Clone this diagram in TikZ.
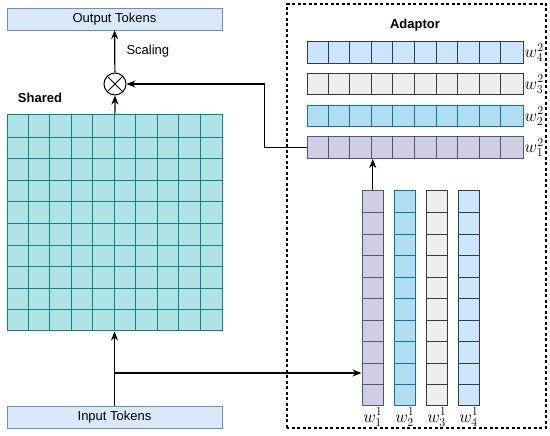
\documentclass[tikz,border=0pt]{standalone}
\usepackage{fontspec}
\setmainfont{Liberation Sans}
\usetikzlibrary{positioning,arrows.meta,calc}

\definecolor{tokfill}{HTML}{DAE8FC}
\definecolor{tokline}{HTML}{6C8EBF}
\definecolor{tealfill}{HTML}{B0E3E6}
\definecolor{tealline}{HTML}{0E8088}
\definecolor{purplefill}{HTML}{D0CEE2}
\definecolor{purpleline}{HTML}{56517E}
\definecolor{bluefill}{HTML}{B1DDF0}
\definecolor{blueline}{HTML}{10739E}
\definecolor{greyfill}{HTML}{EEEEEE}
\definecolor{greyline}{HTML}{36393D}
\definecolor{skyfill}{HTML}{CCE5FF}
\definecolor{skyline}{HTML}{36393D}

\begin{document}
\begin{tikzpicture}[
    x=1pt, y=1pt,
    font=\fontsize{13}{15}\selectfont,
    tokens/.style={
        draw=tokline,
        fill=tokfill,
        minimum width=215pt,
        minimum height=22pt,
        inner sep=0pt
    },
    weightrow/.style={
        line width=1pt,
        minimum width=216pt,
        minimum height=21.5pt,
        inner sep=0pt
    },
    weightcol/.style={
        line width=1pt,
        minimum width=21.5pt,
        minimum height=215pt,
        inner sep=0pt
    },
    wlabel/.style={font=\fontsize{17}{19}\selectfont, inner sep=0.5pt},
    arrow/.style={
        -{Stealth[length=9pt,width=7pt]},
        line width=1.2pt
    }
]
\useasboundingbox (0,0) rectangle (550,436);

% adaptor frame
\draw[dashed, line width=1.1pt, dash pattern=on 3pt off 2.5pt] (287,8) rectangle (546,432);
\node[font=\fontsize{13}{15}\selectfont\bfseries] (adaptor) at (415,411) {Adaptor};

% shared weights
\node[tokens] (output) at (114.5,417) {Output Tokens};
\node[draw, circle, line width=1pt, minimum size=22pt, inner sep=0pt] (mul) at (115,352) {};
\draw[line width=1pt] (mul.north east) -- (mul.south west);
\draw[line width=1pt] (mul.north west) -- (mul.south east);
\node[anchor=west] (scaling) at (123,385) {Scaling};
\node[font=\fontsize{13}{15}\selectfont\bfseries] (sharedlabel) at (40,338) {Shared};

\node[draw=tealline, fill=tealfill, line width=1pt, minimum width=215pt,
      minimum height=216pt, inner sep=0pt] (shared) at (114.5,213) {};
\foreach \k in {1,...,9} {
    \draw[tealline, line width=1pt] ($(shared.south west)+(\k*21.5,0)$) -- ($(shared.north west)+(\k*21.5,0)$);
    \draw[tealline, line width=1pt] ($(shared.south west)+(0,\k*21.6)$) -- ($(shared.south east)+(0,\k*21.6)$);
}

\node[tokens] (input) at (114.5,19) {Input Tokens};

% adaptor rows
\node[weightrow, draw=skyline, fill=skyfill] (r4) at (415,383.25) {};
\node[weightrow, draw=greyline, fill=greyfill] (r3) at (415,351.75) {};
\node[weightrow, draw=blueline, fill=bluefill] (r2) at (415,319.75) {};
\node[weightrow, draw=purpleline, fill=purplefill] (r1) at (415,288.25) {};

% adaptor columns
\node[weightcol, draw=purpleline, fill=purplefill] (c1) at (372.75,137.5) {};
\node[weightcol, draw=blueline, fill=bluefill] (c2) at (404.75,137.5) {};
\node[weightcol, draw=greyline, fill=greyfill] (c3) at (436.75,137.5) {};
\node[weightcol, draw=skyline, fill=skyfill] (c4) at (468.75,137.5) {};

\foreach \n/\c in {r1/purpleline, r2/blueline, r3/greyline, r4/skyline} {
    \foreach \k in {1,...,9}
        \draw[\c, line width=1pt] ($(\n.south west)+(\k*21.6,0)$) -- ($(\n.north west)+(\k*21.6,0)$);
}
\foreach \n/\c in {c1/purpleline, c2/blueline, c3/greyline, c4/skyline} {
    \foreach \k in {1,...,9}
        \draw[\c, line width=1pt] ($(\n.south west)+(0,\k*21.5)$) -- ($(\n.south east)+(0,\k*21.5)$);
}

\foreach \i in {1,...,4} {
    \node[wlabel, right=0.5pt of r\i] (rl\i) {$w_{\i}^{2}$};
    \node[wlabel, below=1pt of c\i] (cl\i) {$w_{\i}^{1}$};
}

% connectors
\coordinate (split) at (114.5,63);
\draw[arrow] (input) -- (shared);
\draw[arrow] (split) -- (split -| c1.west);
\draw[arrow] (shared) -- (mul);
\draw[arrow] (mul) -- (output);
\draw[arrow] (c1.north) -- (c1.north |- r1.south);
\draw[arrow] (r1.west) -- ++(-42,0) |- (mul.east);

\end{tikzpicture}
\end{document}
